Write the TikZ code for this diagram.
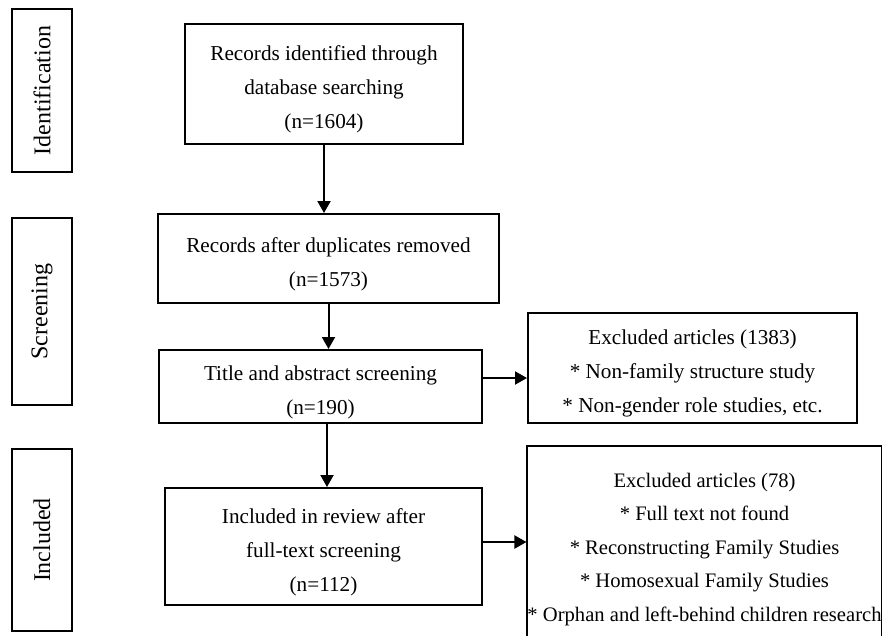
\documentclass[tikz,border=0pt]{standalone}
\usepackage{fontspec}
\setmainfont{Liberation Serif}
\usetikzlibrary{arrows.meta}
\newcommand{\topstrut}{\rule{0pt}{26pt}}
\begin{document}
\begin{tikzpicture}[x=1pt,y=-1pt,
  box/.style={draw,line width=2pt,inner sep=0pt,align=center,
    font=\fontsize{21.2}{34}\selectfont},
  stage/.style={draw,line width=2pt,inner sep=0pt,minimum width=60pt,
    font=\fontsize{24}{28}\selectfont},
  arr/.style={line width=2pt,-{Triangle[length=12pt,width=13pt]}}]
\useasboundingbox (0,0) rectangle (882,635);
% stage labels
\node[stage,minimum height=163pt] (idb) at (42,90.5) {\rotatebox{90}{Identification}};
\node[stage,minimum height=187pt] (scb) at (42,311.5) {\rotatebox{90}{Screening}};
\node[stage,minimum height=182pt] (inb) at (42,540) {\rotatebox{90}{Included}};
% main boxes
\node[box,minimum width=278pt,minimum height=120pt] (b1) at (324,84)
  {\topstrut Records identified through\\database searching\\(n=1604)};
\node[box,minimum width=341pt,minimum height=89pt] (b2) at (328.5,258.5)
  {\topstrut Records after duplicates removed\\(n=1573)};
\node[box,minimum width=323pt,minimum height=73pt] (b3) at (320.5,386.5)
  {\topstrut Title and abstract screening\\(n=190)};
\node[box,minimum width=317pt,minimum height=117pt] (b4) at (323.5,546.5)
  {\topstrut Included in review after\\full-text screening\\(n=112)};
% exclusion boxes
\node[box,minimum width=329pt,minimum height=110pt] (e1) at (692.5,368)
  {\topstrut Excluded articles (1383)\\* Non-family structure study\\* Non-gender role studies, etc.};
\node[box,minimum width=353pt,minimum height=195pt,font=\fontsize{20.6}{33.5}\selectfont] (e2) at (704.5,543.5)
  {\topstrut Excluded articles (78)\\* Full text not found\\* Reconstructing Family Studies\\* Homosexual Family Studies\\* Orphan and left-behind children research};
% connectors
\draw[arr] (b1.south) -- (b1.south |- b2.north);
\draw[arr] (b2.south) -- (b2.south |- b3.north);
\draw[arr] (b3.south -| 327,0) -- (b4.north -| 327,0);
\draw[arr] (b3.east |- 0,378) -- (e1.west |- 0,378);
\draw[arr] (b4.east |- 0,542) -- (e2.west |- 0,542);
\end{tikzpicture}
\end{document}
